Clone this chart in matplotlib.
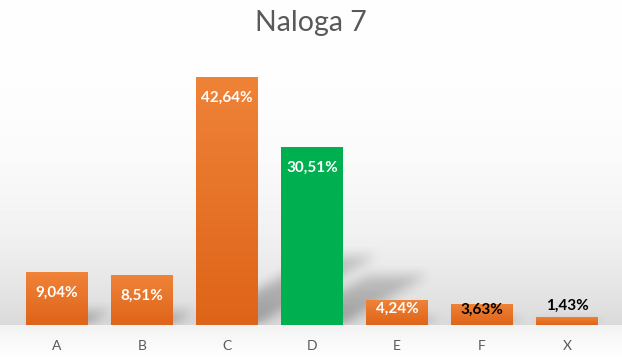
import numpy as np
import matplotlib.pyplot as plt
from matplotlib.colors import LinearSegmentedColormap

plt.rcParams['font.family'] = ['Lato', 'DejaVu Sans']

# Data
categories = ['A', 'B', 'C', 'D', 'E', 'F', 'X']
values = [9.04, 8.51, 42.64, 30.51, 4.24, 3.63, 1.43]
labels = ['9,04%', '8,51%', '42,64%', '30,51%', '4,24%', '3,63%', '1,43%']
label_colors = ['white', 'white', 'white', 'white', 'white', 'black', 'black']
label_offsets = [-15, -15, -15, -15, -6, -4, 8]  # points from bar top

orange_top = '#EF8338'
orange_bottom = '#DE6419'
green = '#00B050'
ymax = 45

fig = plt.figure(figsize=(6.22, 3.6), dpi=100)

# chart background gradient
bg = fig.add_axes([0, 0, 1, 1], zorder=-2)
bg.axis('off')
rows = np.linspace(0, 1, 360)
base_row = 325 / 360
shade = np.where(rows < base_row,
                 0.995 - 0.14 * (rows / base_row) ** 3,
                 0.95 + 0.05 * (rows - base_row) / (1 - base_row))
bg.imshow(np.repeat(shade[:, None], 2, axis=1), cmap='gray', vmin=0, vmax=1,
          aspect='auto', extent=[0, 1, 0, 1])
bg.set_xlim(0, 1)
bg.set_ylim(0, 1)

ax = fig.add_axes([14.5 / 622, 1 - 325 / 360, 595 / 622, (325 - 63) / 360])
ax.set_facecolor('none')
for s in ax.spines.values():
    s.set_visible(False)
ax.set_yticks([])
ax.set_xticks(range(len(categories)))
ax.set_xticklabels(categories, color='#595959', fontsize=10)
ax.tick_params(axis='x', length=0, pad=11)

width = 0.72
x = np.arange(len(categories))

# blurred perspective shadows, rasterised in data space
gx = np.linspace(-0.5, len(categories) - 0.5, 600)
gy = np.linspace(0, ymax, 260)
GX, GY = np.meshgrid(gx, gy)
mask = np.zeros_like(GX)
for xi, v in zip(x, values):
    dx = 0.033 * v
    dy = 0.28 * v
    t = GY / dy
    inside = (t >= 0) & (t <= 1) & \
        (GX >= xi - width / 2 + dx * t) & (GX <= xi + width / 2 + dx * t)
    mask = np.maximum(mask, np.where(inside, 1.0 - 0.45 * t, 0))


def blur(a, n, axis):
    k = np.ones(n) / n
    return np.apply_along_axis(lambda r: np.convolve(r, k, mode='same'), axis, a)


mask = blur(blur(mask, 15, 1), 15, 0)
mask = blur(blur(mask, 9, 1), 9, 0)
shadow = np.zeros(mask.shape + (4,))
shadow[..., 3] = mask * 0.3
ax.imshow(shadow, origin='lower', aspect='auto',
          extent=[gx[0], gx[-1], 0, ymax], zorder=1)

orange_cmap = LinearSegmentedColormap.from_list('og', [orange_bottom, orange_top])
grad = np.linspace(0, 1, 100)[:, None]

bars = ax.bar(x, values, width=width, color='none', zorder=2)
for i, (b, v) in enumerate(zip(bars, values)):
    if categories[i] == 'D':
        b.set_facecolor(green)
    else:
        im = ax.imshow(grad, cmap=orange_cmap, origin='lower', aspect='auto',
                       extent=[b.get_x(), b.get_x() + b.get_width(), 0, v],
                       zorder=2)
        im.set_clip_path(b)
    ax.annotate(labels[i], (x[i], v), xytext=(0, label_offsets[i]),
                textcoords='offset points', ha='center', va='center',
                color=label_colors[i], fontsize=11, fontweight='bold', zorder=4)

ax.set_xlim(-0.5, len(categories) - 0.5)
ax.set_ylim(0, ymax)

fig.text(0.5, 1 - 23 / 360, 'Naloga 7', ha='center', va='center',
         fontsize=20.5, color='#595959')

fig.savefig('out.png', dpi=100)
